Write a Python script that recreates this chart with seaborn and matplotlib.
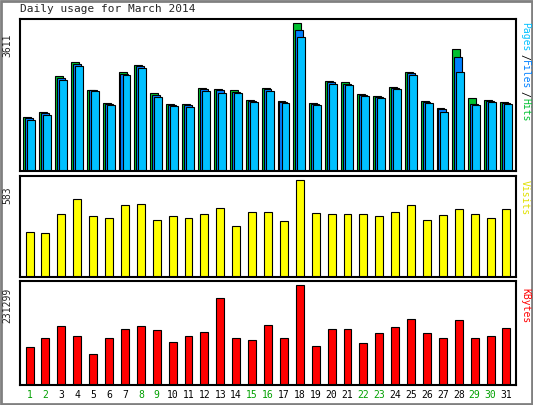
import seaborn as sns
import matplotlib.pyplot as plt
import numpy as np

days = list(range(1, 32))
hits = [1320, 1444, 2316, 2665, 1992, 1669, 2416, 2590, 1918, 1644, 1644, 2042, 2017, 1992, 1743, 2042,
        1718, 3611, 1669, 2192, 2167, 1893, 1843, 2067, 2416, 1718, 1544, 2988, 1793, 1743, 1693]
files = [1290, 1410, 2270, 2620, 1992, 1640, 2380, 2560, 1870, 1620, 1610, 2000, 1990, 1930, 1720, 2000,
         1700, 3460, 1640, 2170, 2140, 1870, 1820, 2030, 2390, 1690, 1520, 2780, 1650, 1720, 1660]
pages = [1260, 1370, 2220, 2570, 1950, 1620, 2350, 2520, 1810, 1590, 1570, 1960, 1910, 1920, 1680, 1960,
         1660, 3290, 1610, 2140, 2110, 1840, 1790, 2000, 2340, 1660, 1450, 2420, 1620, 1690, 1630]
visits = [272, 266, 380, 469, 368, 355, 431, 437, 342, 368, 355, 380, 412, 304, 393, 393,
          336, 583, 387, 380, 380, 380, 368, 393, 431, 342, 374, 406, 380, 355, 406]
kbytes = [87650, 109563, 136345, 114432, 70607, 109563, 129040, 136345, 126606, 99825, 114432, 121736,
          202082, 109563, 104693, 138779, 109563, 231299, 90085, 129040, 129040, 97389, 119301, 133910,
          153388, 119301, 109563, 150953, 109563, 114432, 131000]
weekend = {1, 2, 8, 9, 15, 16, 22, 23, 29, 30}

sns.set_style("white")
plt.rcParams['font.family'] = ['DejaVu Sans Mono']
plt.rcParams['font.size'] = 7

fig = plt.figure(figsize=(5.33, 4.05), dpi=100, facecolor='white')
W, H = 533, 405
def mk(x0, y0, x1, y1):
    ax = fig.add_axes([x0 / W, 1 - y1 / H, (x1 - x0) / W, (y1 - y0) / H])
    ax.set_xlim(0.4, 31.6)
    ax.set_xticks([]); ax.set_yticks([])
    for s in ax.spines.values():
        s.set_color('black'); s.set_linewidth(1.5)
    return ax

x = np.array(days)
ax1 = mk(20, 19, 516, 171)
ax1.set_ylim(0, 3611 * 1.03)
ax1.bar(x - 0.15, hits, width=0.5, color='#00c030', edgecolor='black', lw=0.8)
ax1.bar(x - 0.03, files, width=0.5, color='#0080ff', edgecolor='black', lw=0.8)
ax1.bar(x + 0.1, pages, width=0.5, color='#00c0ff', edgecolor='black', lw=0.8)

ax2 = mk(20, 176, 516, 277)
ax2.set_ylim(0, 583 * 1.04)
ax2.bar(x, visits, width=0.5, color='#ffff00', edgecolor='black', lw=0.8)

ax3 = mk(20, 281, 516, 385)
ax3.set_ylim(0, 231299 * 1.04)
ax3.bar(x, kbytes, width=0.5, color='#ff0000', edgecolor='black', lw=0.8)

for d in days:
    fig.text((20 + (d - 0.4) / 31.2 * 496) / W, 1 - 395 / H, str(d), ha='center', va='center',
             color='#00a000' if d in weekend else 'black')

fig.text(20 / W, 1 - 9 / H, 'Daily usage for March 2014', ha='left', va='center', fontsize=8)
fig.text(7 / W, 1 - 45 / H, '3611', rotation=90, ha='center', va='center')
fig.text(7 / W, 1 - 195 / H, '583', rotation=90, ha='center', va='center')
fig.text(7 / W, 1 - 305 / H, '231299', rotation=90, ha='center', va='center')

# right-side legends
def vlabel(parts, ytop):
    y = ytop
    for txt, c in parts:
        fig.text(525 / W, 1 - y / H, txt, rotation=-90, ha='center', va='top', color=c)
        y += len(txt) * 6.3
vlabel([('Pages', '#00c0ff'), ('/', 'black'), ('Files', '#0080ff'), ('/', 'black'), ('Hits', '#00c030')], 22)
vlabel([('Visits', '#e0e000')], 180)
vlabel([('KBytes', '#ff0000')], 288)

fig.patches.append(plt.Rectangle((0.002, 0.002), 0.996, 0.996, transform=fig.transFigure,
                                 fill=False, edgecolor='#808080', lw=2))
fig.savefig('out.png', dpi=100)
